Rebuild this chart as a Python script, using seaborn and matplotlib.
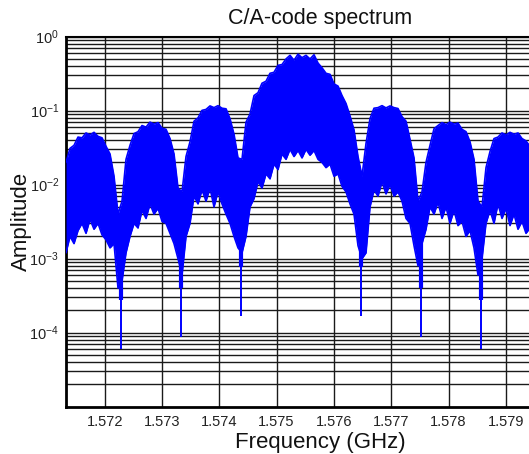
import numpy as np
import pandas as pd
import matplotlib
matplotlib.use("Agg")
import matplotlib.pyplot as plt
import seaborn as sns
from matplotlib.ticker import LogLocator, FixedLocator, NullFormatter

# ---------------- data ----------------
# frequency sampling grid of the spectrum envelope (GHz)
freq_ghz = np.linspace(1.571325, 1.579422, 117)

# upper edge of the spectral lines at each grid frequency
amp_upper = [
    0.020, 0.031, 0.034, 0.044, 0.043, 0.050, 0.047, 0.051, 0.045, 0.043,
    0.033, 0.026, 0.013, 0.0040, 0.0060, 0.022, 0.034, 0.049, 0.052, 0.063,
    0.060, 0.070, 0.066, 0.069, 0.058, 0.056, 0.042, 0.026, 0.009, 0.008,
    0.024, 0.038, 0.072, 0.080, 0.101, 0.104, 0.116, 0.110, 0.117, 0.108,
    0.106, 0.078, 0.048, 0.023, 0.022, 0.070, 0.090, 0.160, 0.175, 0.235,
    0.250, 0.320, 0.330, 0.410, 0.420, 0.500, 0.560, 0.480, 0.580, 0.520,
    0.560, 0.500, 0.570, 0.440, 0.380, 0.320, 0.310, 0.230, 0.215, 0.160,
    0.125, 0.085, 0.055, 0.024, 0.013, 0.036, 0.078, 0.108, 0.110, 0.117,
    0.109, 0.116, 0.110, 0.107, 0.083, 0.072, 0.041, 0.023, 0.006, 0.008,
    0.020, 0.034, 0.057, 0.063, 0.069, 0.065, 0.070, 0.066, 0.068, 0.056,
    0.052, 0.038, 0.022, 0.006, 0.005, 0.017, 0.028, 0.042, 0.044, 0.050,
    0.047, 0.051, 0.048, 0.050, 0.042, 0.039, 0.033,
]

# lower edge of the dense spectral lines at each grid frequency
amp_lower = [
    0.0012, 0.0020, 0.0016, 0.0024, 0.0030, 0.0022, 0.0034, 0.0025, 0.0030, 0.0021,
    0.0018, 0.0014, 0.0016, 0.0004, 0.0005, 0.0012, 0.0020, 0.0030, 0.0026, 0.0045,
    0.0035, 0.0055, 0.0040, 0.0048, 0.0032, 0.0030, 0.0022, 0.0016, 0.0010, 0.0006,
    0.0020, 0.0030, 0.0070, 0.0055, 0.0085, 0.0060, 0.0090, 0.0050, 0.0080, 0.0055,
    0.0040, 0.0030, 0.0020, 0.0014, 0.0012, 0.0020, 0.0050, 0.0065, 0.0110, 0.0090,
    0.0140, 0.0120, 0.0190, 0.0160, 0.0260, 0.0220, 0.0300, 0.0240, 0.0290, 0.0230,
    0.0300, 0.0250, 0.0290, 0.0220, 0.0200, 0.0170, 0.0190, 0.0130, 0.0140, 0.0095,
    0.0080, 0.0055, 0.0040, 0.0015, 0.0010, 0.0012, 0.0050, 0.0085, 0.0070, 0.0110,
    0.0075, 0.0100, 0.0070, 0.0080, 0.0060, 0.0035, 0.0030, 0.0015, 0.0008, 0.0016,
    0.0025, 0.0050, 0.0040, 0.0058, 0.0035, 0.0050, 0.0030, 0.0045, 0.0028, 0.0032,
    0.0020, 0.0024, 0.0014, 0.0006, 0.0010, 0.0030, 0.0045, 0.0030, 0.0055, 0.0035,
    0.0048, 0.0028, 0.0040, 0.0025, 0.0032, 0.0022, 0.0026,
]

# spectral nulls between the lobes
null_freq_ghz = [1.572279, 1.573326, 1.574373, 1.576468, 1.577515, 1.578562]
null_body_depth = [2.8e-4, 4.0e-4, 7.7e-4, 7.7e-4, 4.0e-4, 2.8e-4]
null_depth = [6.0e-5, 8.7e-5, 1.7e-4, 1.7e-4, 8.7e-5, 6.0e-5]

xtick_vals = [1.572, 1.573, 1.574, 1.575, 1.576, 1.577, 1.578, 1.579]
xtick_labels = ["1.572", "1.573", "1.574", "1.575", "1.576", "1.577", "1.578", "1.579"]
ytick_vals = [1e-4, 1e-3, 1e-2, 1e-1, 1e0]
ytick_labels = [r"$\mathdefault{10^{-4}}$", r"$\mathdefault{10^{-3}}$",
                r"$\mathdefault{10^{-2}}$", r"$\mathdefault{10^{-1}}$",
                r"$\mathdefault{10^{0}}$"]

title_text = "C/A-code spectrum"
xlabel_text = "Frequency (GHz)"
ylabel_text = "Amplitude"

# ---------------- styling ----------------
sns.set_style("white")
plt.rcParams["font.family"] = ["Liberation Sans", "DejaVu Sans"]
plt.rcParams["axes.unicode_minus"] = False
plt.rcParams["mathtext.fontset"] = "custom"
plt.rcParams["mathtext.rm"] = "Liberation Sans"
plt.rcParams["mathtext.it"] = "Liberation Sans:italic"
plt.rcParams["mathtext.bf"] = "Liberation Sans:bold"

BLUE = "#0000ff"

fig = plt.figure(figsize=(5.29, 4.54), dpi=100)
ax = fig.add_axes([0.1248, 0.1042, 0.9603, 0.815])

df = pd.DataFrame({"freq": freq_ghz, "upper": amp_upper, "lower": amp_lower})

ax.set_yscale("log")
ax.fill_between(df["freq"], df["lower"], df["upper"],
                color=BLUE, lw=0, zorder=3)
sns.lineplot(data=df, x="freq", y="upper", ax=ax, color=BLUE, lw=1.2,
             estimator=None, sort=False, zorder=4)
sns.lineplot(data=df, x="freq", y="lower", ax=ax, color=BLUE, lw=1.2,
             estimator=None, sort=False, zorder=4)

# nulls: thick dense part plus single deep line
for f, bd, d in zip(null_freq_ghz, null_body_depth, null_depth):
    ax.plot([f, f], [bd, 2.5e-3], color=BLUE, lw=3.0, solid_capstyle="butt", zorder=4)
    ax.plot([f, f], [d, bd], color=BLUE, lw=1.4, solid_capstyle="butt", zorder=4)

ax.set_xlim(1.571325, 1.58019)
ax.set_ylim(1e-5, 1e0)

ax.xaxis.set_major_locator(FixedLocator(xtick_vals))
ax.set_xticklabels(xtick_labels)
ax.yaxis.set_major_locator(FixedLocator(ytick_vals))
ax.set_yticklabels(ytick_labels)
ax.yaxis.set_minor_locator(LogLocator(base=10, subs=np.arange(2, 10) * 1.0, numticks=30))
ax.yaxis.set_minor_formatter(NullFormatter())

ax.set_axisbelow(True)
ax.grid(True, which="both", axis="y", color="#1a1a1a", lw=1.0)
ax.grid(True, which="major", axis="x", color="#1a1a1a", lw=1.0)
ax.tick_params(axis="both", which="both", direction="in", length=0,
               labelsize=10.5, colors="#222222", pad=6)
ax.tick_params(axis="y", pad=5)

for s in ["left", "bottom"]:
    ax.spines[s].set_linewidth(2.0)
    ax.spines[s].set_color("black")
ax.spines["top"].set_linewidth(1.5)
ax.spines["top"].set_color("black")
ax.spines["right"].set_visible(False)

ax.set_title(title_text, fontsize=15.5, color="#111111", pad=9)
ax.set_xlabel(xlabel_text, fontsize=16, color="#111111", labelpad=2)
ax.set_ylabel(ylabel_text, fontsize=16, color="#111111", labelpad=-2)

fig.savefig("out.png", dpi=100)
